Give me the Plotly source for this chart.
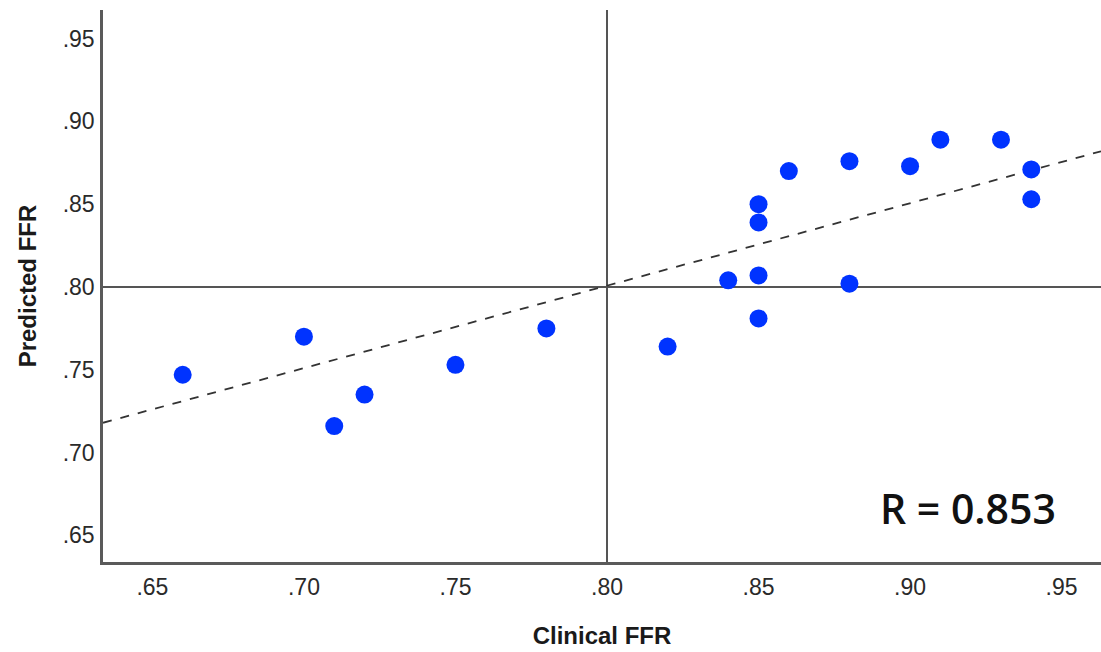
import plotly.graph_objects as go

# Clinical vs predicted fractional flow reserve per lesion
clinical_ffr = [0.66, 0.70, 0.71, 0.72, 0.75, 0.78, 0.82, 0.84, 0.85, 0.85,
                0.85, 0.85, 0.86, 0.88, 0.88, 0.90, 0.91, 0.93, 0.94, 0.94]
predicted_ffr = [0.747, 0.770, 0.716, 0.735, 0.753, 0.775, 0.764, 0.804, 0.850, 0.839,
                 0.807, 0.781, 0.870, 0.876, 0.802, 0.873, 0.889, 0.889, 0.871, 0.853]

tick_vals = [0.65, 0.70, 0.75, 0.80, 0.85, 0.90, 0.95]
tick_text = [".65", ".70", ".75", ".80", ".85", ".90", ".95"]
cutoff = 0.80
r_label = "R = 0.853"

# Fit line (total) coefficients
fit_slope = 0.498
fit_intercept = 0.4024

x_range = [0.6337, 0.963]
y_range = [0.6339, 0.9673]

fit_x = list(x_range)
fit_y = [fit_slope * v + fit_intercept for v in fit_x]

fig = go.Figure()

fig.add_trace(go.Scatter(
    x=fit_x, y=fit_y, mode="lines",
    line=dict(color="#333333", width=1.8, dash="dash"),
    hoverinfo="skip", showlegend=False,
))

fig.add_trace(go.Scatter(
    x=clinical_ffr, y=predicted_ffr, mode="markers",
    marker=dict(size=18, color="#0033FF", line=dict(width=0)),
    showlegend=False,
))

# Reference cut-off lines at FFR = 0.80
fig.add_shape(type="line", xref="x", yref="paper", x0=cutoff, x1=cutoff, y0=0, y1=1,
              line=dict(color="#555555", width=2), layer="below")
fig.add_shape(type="line", xref="paper", yref="y", x0=0, x1=1, y0=cutoff, y1=cutoff,
              line=dict(color="#555555", width=2), layer="below")

fig.add_annotation(
    x=0.9487, y=0.6665, xref="x", yref="y", text=r_label, showarrow=False,
    xanchor="right", yanchor="middle",
    font=dict(family="Open Sans", size=41, color="#111111", weight=600),
)

axis_font = dict(family="Liberation Sans, Arial", size=23, color="#2a2a2a")
title_font = dict(family="Liberation Sans, Arial", size=24, color="#1a1a1a")

fig.update_xaxes(
    range=x_range, tickvals=tick_vals, ticktext=tick_text,
    showgrid=False, zeroline=False, showline=True, linecolor="#5a5a5a", linewidth=2.5,
    ticks="", tickfont=axis_font, ticklabelstandoff=3,
    title=dict(text="<b>Clinical FFR</b>", font=title_font, standoff=28),
)
fig.update_yaxes(
    range=y_range, tickvals=tick_vals, ticktext=tick_text,
    showgrid=False, zeroline=False, showline=True, linecolor="#5a5a5a", linewidth=2.5,
    ticks="", tickfont=axis_font, ticklabelstandoff=1,
    title=dict(text="<b>Predicted FFR</b>", font=title_font, standoff=20),
)

fig.update_layout(
    width=1101, height=652,
    margin=dict(l=103, r=0, t=10, b=90),
    plot_bgcolor="white", paper_bgcolor="white",
)

fig.write_html("out.html")
